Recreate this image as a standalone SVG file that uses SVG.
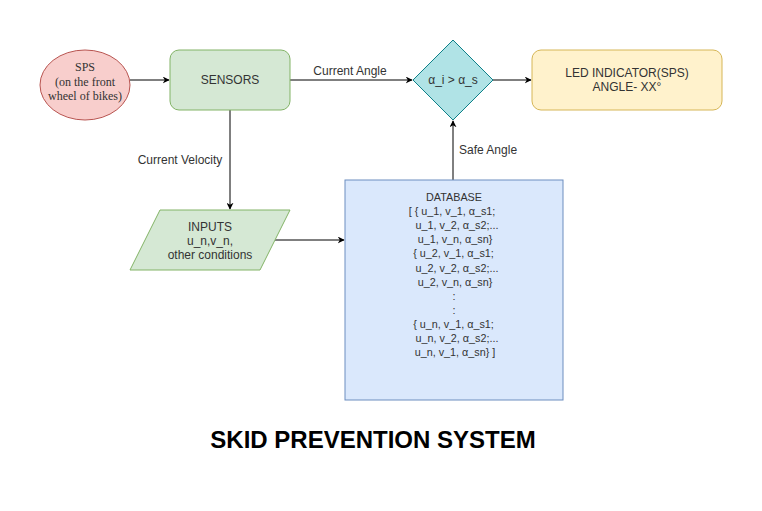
<svg xmlns="http://www.w3.org/2000/svg" width="762" height="511" viewBox="0 0 762 511">
<defs>
<marker id="arr" viewBox="0 0 10 10" refX="9" refY="5" markerWidth="7" markerHeight="7" orient="auto" markerUnits="userSpaceOnUse">
<path d="M0,0 L10,5 L0,10 L3,5 Z" fill="#000"/>
</marker>
<style>
.t{font-family:"Liberation Sans",Arial,sans-serif;font-size:12px;fill:#333;text-anchor:middle}
.s{font-family:"Liberation Serif","Times New Roman",serif;font-size:12px;fill:#333;text-anchor:middle}
.db{font-family:"Liberation Sans",Arial,sans-serif;font-size:10.8px;fill:#333;text-anchor:middle}
.lbl{font-family:"Liberation Sans",Arial,sans-serif;font-size:12px;fill:#333}
.c{fill:none;stroke:#000;stroke-width:1;marker-end:url(#arr)}
</style>
</defs>
<rect width="762" height="511" fill="#fff"/>
<g id="connectors">
<line class="c" x1="130" y1="80" x2="169" y2="80"/>
<line class="c" x1="290" y1="80" x2="412" y2="80"/>
<line class="c" x1="493" y1="80" x2="531" y2="80"/>
<line class="c" x1="230" y1="110" x2="230" y2="209"/>
<line class="c" x1="275" y1="240" x2="344" y2="240"/>
<line class="c" x1="453" y1="180" x2="453" y2="121"/>
<text class="lbl" x="350" y="75" text-anchor="middle">Current Angle</text>
<text class="lbl" x="180" y="164" text-anchor="middle">Current Velocity</text>
<text class="lbl" x="459" y="154">Safe Angle</text>
</g>
<g id="sps">
<ellipse cx="85" cy="85" rx="45" ry="35" fill="#f8cecc" stroke="#b85450"/>
<text class="s" x="85" y="71">SPS</text>
<text class="s" x="85" y="86">(on the front</text>
<text class="s" x="85" y="100">wheel of bikes)</text>
</g>
<g id="sensors">
<rect x="170" y="50" width="120" height="60" rx="9" fill="#d5e8d4" stroke="#82b366"/>
<text class="t" x="230" y="84">SENSORS</text>
</g>
<g id="decision">
<polygon points="453,40 493,80 453,120 413,80" fill="#b0e3e6" stroke="#0e8088"/>
<text class="t" x="453" y="84">α_i &gt; α_s</text>
</g>
<g id="led">
<rect x="532" y="50" width="190" height="60" rx="9" fill="#fff2cc" stroke="#d6b656"/>
<text class="t" x="627" y="77">LED INDICATOR(SPS)</text>
<text class="t" x="627" y="91">ANGLE- XX°</text>
</g>
<g id="inputs">
<polygon points="160,210 290,210 260,270 130,270" fill="#d5e8d4" stroke="#82b366"/>
<text class="t" x="210" y="231">INPUTS</text>
<text class="t" x="210" y="245">u_n,v_n,</text>
<text class="t" x="210" y="259">other conditions</text>
</g>
<g id="database">
<rect x="345" y="180" width="218" height="220" fill="#dae8fc" stroke="#6c8ebf"/>
<text class="db" x="454" y="201">DATABASE</text>
<text class="db" x="452" y="215">[ { u_1, v_1, α_s1;</text>
<text class="db" x="457" y="229">u_1, v_2, α_s2;...</text>
<text class="db" x="455" y="243">u_1, v_n, α_sn}</text>
<text class="db" x="453.5" y="257">{ u_2, v_1, α_s1;</text>
<text class="db" x="457" y="272">u_2, v_2, α_s2;...</text>
<text class="db" x="455" y="286">u_2, v_n, α_sn}</text>
<text class="db" x="454" y="300">:</text>
<text class="db" x="454" y="314">:</text>
<text class="db" x="453.5" y="328">{ u_n, v_1, α_s1;</text>
<text class="db" x="457" y="342">u_n, v_2, α_s2;...</text>
<text class="db" x="455" y="356">u_n, v_1, α_sn}  ]</text>
</g>
<text x="373" y="448" font-family="Liberation Sans,Arial,sans-serif" font-size="24" font-weight="bold" fill="#000" text-anchor="middle">SKID PREVENTION SYSTEM</text>
</svg>
